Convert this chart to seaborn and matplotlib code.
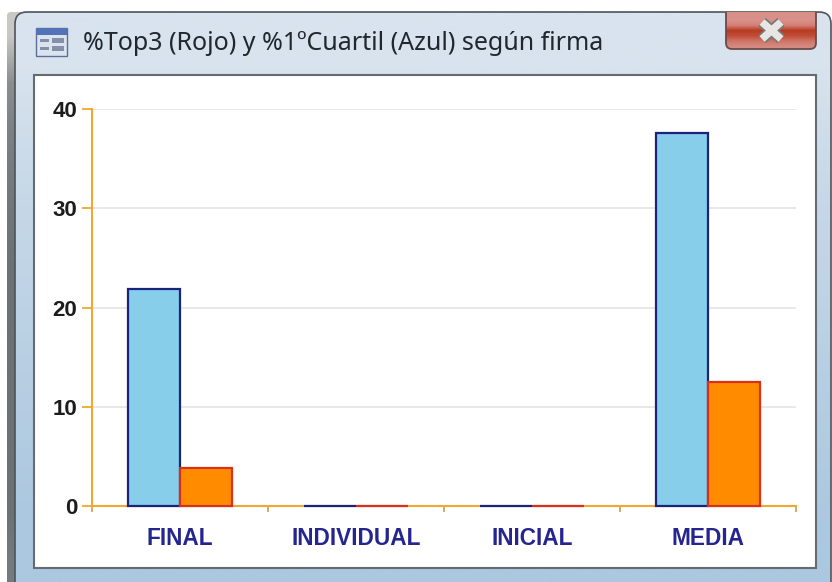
import numpy as np
import pandas as pd
import seaborn as sns
import matplotlib
matplotlib.use('Agg')
import matplotlib.pyplot as plt
from matplotlib.patches import FancyBboxPatch, Rectangle

# datos
firmas = ['FINAL', 'INDIVIDUAL', 'INICIAL', 'MEDIA']
cuartil = [21.9, 0, 0, 37.6]
top3 = [3.8, 0, 0, 12.5]

df = pd.DataFrame({'firma': firmas * 2,
                   'valor': cuartil + top3,
                   'serie': ['cuartil'] * 4 + ['top3'] * 4})

sns.set_theme(style='white')
plt.rcParams['font.family'] = ['Liberation Sans', 'DejaVu Sans']

W, H = 832, 582
fig = plt.figure(figsize=(W / 100, H / 100), dpi=100, facecolor='white')


def vgrad(colors):
    # degradado vertical a partir de una lista de colores
    rgb = np.array([matplotlib.colors.to_rgb(c) for c in colors])
    return rgb[:, None, :]


# marco de la ventana
bg = fig.add_axes([0, 0, 1, 1])
bg.set_xlim(0, W)
bg.set_ylim(H, 0)
bg.axis('off')

shadow = FancyBboxPatch((7, 12), 30, 600, boxstyle='round,pad=0,rounding_size=4', fc='none', ec='none')
bg.add_patch(shadow)
im = bg.imshow(vgrad(['#c8c8c4', '#8a8e90', '#7c8184', '#757a7d', '#707578', '#6c7174',
                      '#6c7174', '#6c7174', '#6c7174', '#6c7174', '#6c7174', '#747a7e']),
               extent=(7, 37, 582, 12), aspect='auto', zorder=1, interpolation='bilinear')
im.set_clip_path(shadow)

frame = FancyBboxPatch((15, 12), 816, 600, boxstyle='round,pad=0,rounding_size=12',
                       fc='none', ec='#4f5458', lw=1.2, zorder=3)
bg.add_patch(frame)
im = bg.imshow(vgrad(['#d8e3ee', '#c8d9e8', '#bed3e5', '#b4cde2', '#abc8e0']),
               extent=(15, 831, 582, 12), aspect='auto', zorder=2, interpolation='bilinear')
im.set_clip_path(frame)
bg.add_patch(Rectangle((33.5, 74.5), 782, 493, fc='white', ec='#656b70', lw=1.5, zorder=3))

# boton cerrar
button = FancyBboxPatch((726, 4), 90, 45, boxstyle='round,pad=0,rounding_size=6',
                        fc='none', ec='#6b4a4a', lw=1.3, zorder=5)
bg.add_patch(button)
button.set_clip_path(frame)
im = bg.imshow(vgrad(['#d88f86', '#d9918a', '#d58078', '#b83c22', '#c04c36', '#cf7468', '#d48a80']),
               extent=(726, 816, 49, 12), aspect='auto', zorder=4, interpolation='bilinear')
im.set_clip_path(button)
for lw, col in ((11, '#77787c'), (7.5, '#e8e6e2')):
    bg.plot([762, 781], [22, 39], color=col, lw=lw * 0.72, zorder=6, solid_capstyle='butt')
    bg.plot([762, 781], [39, 22], color=col, lw=lw * 0.72, zorder=6, solid_capstyle='butt')

# icono
bg.add_patch(Rectangle((36, 28), 31, 28, fc='#dbe3ee', ec='#5c6f98', lw=1, zorder=4))
bg.add_patch(Rectangle((36, 28), 31, 7, fc='#5472b8', ec='none', zorder=4))
for y0 in (39, 47):
    bg.add_patch(Rectangle((40, y0), 9, 3, fc='#8391a8', ec='none', zorder=5))
    bg.add_patch(Rectangle((52, y0 - 1), 12, 5, fc='#8391a8', ec='none', zorder=5))

bg.text(83, 43, '%Top3 (Rojo) y %1ºCuartil (Azul) según firma', ha='left', va='center',
        fontsize=18, family='Noto Sans', color='#20282e', zorder=4)
bg.set_xlim(0, W)
bg.set_ylim(H, 0)

# grafico
ax = fig.add_axes([92 / W, 1 - 506 / H, 704 / W, 397 / H], facecolor='none')
sns.barplot(data=df, x='firma', y='valor', hue='serie', order=firmas,
            palette={'cuartil': '#87ceeb', 'top3': '#ff8c00'}, saturation=1,
            width=0.59, gap=0, legend=False, ax=ax, zorder=3, clip_on=False)
for cont, edge in zip(ax.containers, ['#1a237e', '#d8301a']):
    for bar in cont:
        bar.set_edgecolor(edge)
        bar.set_linewidth(1.6)

ax.set_xlim(-0.5, 3.5)
ax.set_ylim(0, 40)
ax.set_yticks([0, 10, 20, 30, 40])
ax.set_xlabel('')
ax.set_ylabel('')
ax.grid(axis='y', color='#e2e2e2', lw=1.1)
ax.set_axisbelow(True)
sns.despine(ax=ax)
for s in ('left', 'bottom'):
    ax.spines[s].set_color('#f0a830')
    ax.spines[s].set_linewidth(1.5)

ax.set_xticks(np.arange(-0.5, 4, 1), minor=True)
ax.tick_params(axis='x', which='major', length=0, pad=15)
ax.tick_params(axis='x', which='minor', length=4.3, width=1.2, color='#c8a050', bottom=True)
ax.tick_params(axis='y', length=7.2, width=1.3, color='#f0a830', left=True, pad=3.6, labelsize=16)
for t in ax.get_xticklabels():
    t.set_fontweight('bold')
    t.set_fontsize(16.3)
    t.set_color('#25258f')
for t in ax.get_yticklabels():
    t.set_fontweight('bold')
    t.set_color('#1c1c1c')

fig.savefig('out.png', dpi=100, facecolor='white')
